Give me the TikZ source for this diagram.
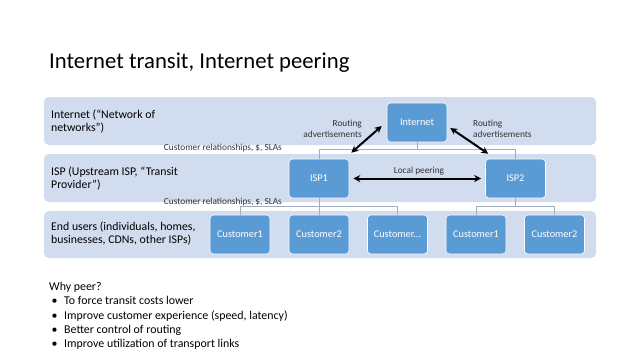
\documentclass[tikz,border=0pt]{standalone}
\usepackage{fontspec}
\setmainfont{Carlito}
\usetikzlibrary{arrows.meta}
\definecolor{bandblue}{RGB}{210, 220, 239}
\definecolor{nodeblue}{RGB}{91, 155, 213}
\definecolor{treegray}{RGB}{160, 172, 192}

\tikzset{
  band/.style={fill=bandblue, rounded corners=5pt},
  unit/.style={rectangle, rounded corners=3.5pt, fill=nodeblue, draw=white, line width=0.6pt,
    minimum width=60pt, minimum height=39pt, text=white, font=\fontsize{10.3}{12}\selectfont},
  tree/.style={draw=treegray, line width=0.7pt},
  adv/.style={<->, >={Stealth[length=7pt, width=7pt]}, line width=2pt, black},
  tag/.style={font=\fontsize{9.3}{11}\selectfont, text=black!80, inner sep=0pt},
  layer/.style={anchor=west, align=left, inner sep=0pt, font=\fontsize{11.8}{13}\selectfont}
}

\begin{document}
\begin{tikzpicture}[x=1pt, y=-1pt]
  \useasboundingbox[fill=white] (0,0) rectangle (640,360);
  % title
  \node[anchor=west, inner sep=0pt, font=\fontsize{22.7}{26}\selectfont] (title) at (49,63) {Internet transit, Internet peering};
  % layers
  \fill[band] (44,97) rectangle (596,145);
  \fill[band] (44,154) rectangle (596,202);
  \fill[band] (44,211) rectangle (596,258);
  \node[layer] (linet) at (51,121.5) {Internet (``Network of\\networks'')};
  \node[layer] (lisp) at (51,178) {ISP (Upstream ISP, ``Transit\\Provider'')};
  \node[layer] (lend) at (51,233.5) {End users (individuals, homes,\\businesses, CDNs, other ISPs)};
  % nodes
  \node[unit] (inet) at (417,122.5) {Internet};
  \node[unit] (isp1) at (319,178.5) {ISP1};
  \node[unit] (isp2) at (515.5,178.5) {ISP2};
  \foreach \x/\name/\txt in {240/c1/Customer1, 319/c2/Customer2, 397.5/c3/Customer.{}.{}., 476/c4/Customer1, 554.5/c5/Customer2}
    \node[unit] (\name) at (\x,234.5) {\txt};
  % hierarchy
  \draw[tree] (inet.south) -- ++(0,8);
  \draw[tree] (isp1.north) -- ++(0,-9) -| (isp2.north);
  \draw[tree] (isp1.south) -- (c2.north);
  \draw[tree] (c1.north) -- ++(0,-8.5) -| (c3.north);
  \draw[tree] (isp2.south) -- ++(0,8.5);
  \draw[tree] (c4.north) -- ++(0,-8.5) -| (c5.north);
  \node[tag, anchor=east] (rel1) at (282,148) {Customer relationships, \$, SLAs};
  \node[tag, anchor=east] (rel2) at (282,202) {Customer relationships, \$, SLAs};
  % routing and peering
  \draw[adv] ([shift={(2,-6)}]isp1.north east) -- ([shift={(-5,3.5)}]inet.west);
  \draw[adv] ([shift={(3,5.5)}]inet.east) -- ([shift={(3,-5)}]isp2.north west);
  \draw[adv] ([xshift=4pt]isp1.east) -- ([xshift=-4pt]isp2.west);
  \node[tag, anchor=east, align=right] (radv1) at (362,128.5) {Routing\\advertisements};
  \node[tag, anchor=west, align=left] (radv2) at (473,129) {Routing\\advertisements};
  \node[tag] (peer) at (419,171) {Local peering};
  % why peer
  \node[anchor=north west, inner sep=0pt, align=left, font=\fontsize{11.9}{14.3}\selectfont] (why) at (49,282)
    {Why peer?\\
     \makebox[15pt][l]{\hspace{2.5pt}\textbullet}To force transit costs lower\\
     \makebox[15pt][l]{\hspace{2.5pt}\textbullet}Improve customer experience (speed, latency)\\
     \makebox[15pt][l]{\hspace{2.5pt}\textbullet}Better control of routing\\
     \makebox[15pt][l]{\hspace{2.5pt}\textbullet}Improve utilization of transport links};
\end{tikzpicture}
\end{document}
